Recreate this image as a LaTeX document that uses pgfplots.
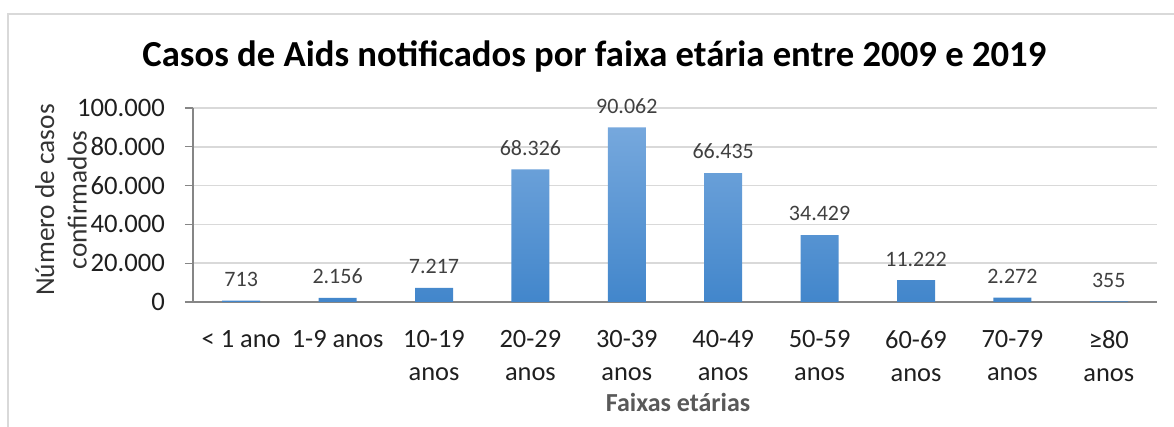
\documentclass[border=0pt]{standalone}
\usepackage{fontspec}
\setmainfont{Carlito}
\usepackage{pgfplots}
\pgfplotsset{compat=1.18}

\definecolor{gridgray}{RGB}{217,217,217}
\definecolor{axisgray}{RGB}{134,134,134}
\definecolor{bartop}{RGB}{118,168,221}
\definecolor{barbot}{RGB}{66,134,203}
\definecolor{labelgray}{RGB}{64,64,64}
\definecolor{xtitlegray}{RGB}{89,89,89}
\definecolor{framegray}{RGB}{217,217,217}

\begin{document}
\begin{tikzpicture}
% picture frame: 1 px = 0.75pt, axis origin at pixel (193,302)
\path[use as bounding box] (-144.75pt,-93.75pt) rectangle (735.75pt,226.5pt);
\draw[framegray, line width=1.3pt] (-138.75pt,-93.75pt) -- (-138.75pt,216pt) -- (735.75pt,216pt);

\begin{axis}[
  at={(0pt,0pt)}, anchor=south west,
  scale only axis, width=723pt, height=145.5pt,
  ybar, bar width=28.5pt,
  xmin=-0.5, xmax=9.5, ymin=0, ymax=100000,
  xtick={0,1,2,3,4,5,6,7,8,9},
  xticklabels={{< 1 ano},{1-9 anos},{10-19\\anos},{20-29\\anos},{30-39\\anos},
    {40-49\\anos},{50-59\\anos},{60-69\\anos},{70-79\\anos},{≥80\\anos}},
  xticklabel style={align=center, font=\fontsize{19.8}{24.5}\selectfont, text=black!88, yshift=-12pt},
  ytick={0,20000,40000,60000,80000,100000},
  yticklabel style={font=\fontsize{20}{24}\selectfont, text=black!88, xshift=-11.5pt},
  scaled y ticks=false,
  /pgf/number format/.cd, fixed, 1000 sep={.}, assume math mode=true,
  /pgfplots/.cd,
  axis x line*=bottom, axis y line*=left,
  axis line style={-, axisgray, line width=1pt},
  tick align=outside, major tick length=6pt,
  ytick style={axisgray, line width=1pt},
  xtick style={draw=none},
  ymajorgrids, grid style={gridgray, line width=1.2pt},
  nodes near coords,
  every node near coord/.append style={font=\fontsize{16.5}{20}\selectfont, text=labelgray, yshift=7pt},
]
\addplot[draw=none, top color=bartop, bottom color=barbot]
  coordinates {(0,713) (1,2156) (2,7217) (3,68326) (4,90062)
               (5,66435) (6,34429) (7,11222) (8,2272) (9,355)};
\end{axis}

\node[anchor=base, font=\fontsize{27.5}{32}\selectfont\bfseries] at (301pt,176.25pt)
  {Casos de Aids notificados por faixa etária entre 2009 e 2019};
\node[anchor=base, font=\fontsize{19.5}{23}\selectfont\bfseries, text=xtitlegray] at (363.75pt,-82.3pt)
  {Faixas etárias};
\node[rotate=90, align=center, font=\fontsize{20.5}{24.5}\selectfont, text=black!80] at (-99pt,76.5pt)
  {Número de casos\\confirmados};
\end{tikzpicture}
\end{document}
